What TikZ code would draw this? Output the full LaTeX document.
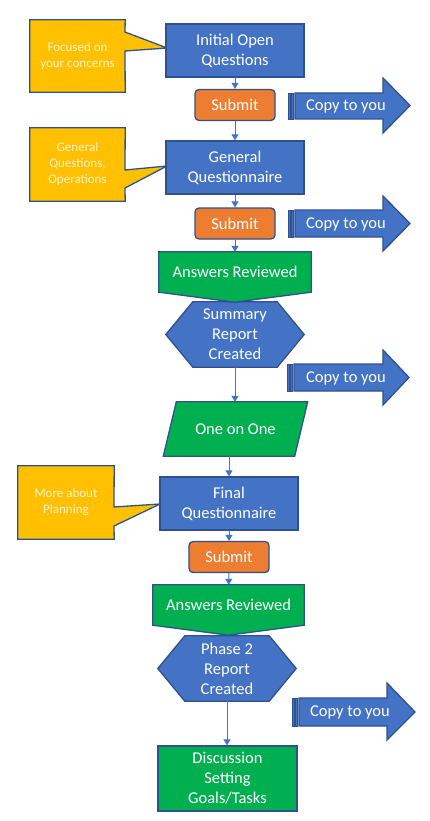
\documentclass[tikz,border=0pt]{standalone}
\usepackage{fontspec}
\setmainfont{Carlito}
\usetikzlibrary{arrows.meta,backgrounds}
\definecolor{bfill}{HTML}{4472C4}
\definecolor{bline}{HTML}{2F528F}
\definecolor{ofill}{HTML}{ED7D31}
\definecolor{gfill}{HTML}{00B050}
\definecolor{yfill}{HTML}{FFC000}
\definecolor{ctext}{HTML}{FFF2CC}
\tikzset{
  maintext/.style={text=white, font=\fontsize{16.5}{20}\selectfont, align=center, inner sep=0pt},
  flowbox/.style={maintext, draw=bline, line width=1.3pt},
  bluebox/.style={flowbox, fill=bfill, minimum width=138pt, minimum height=53pt},
  submitbox/.style={flowbox, fill=ofill, rounded corners=4pt, minimum width=80pt, minimum height=31pt},
  ghost/.style={maintext},
  calltext/.style={text=ctext, font=\fontsize{13}{16}\selectfont, align=center, inner sep=0pt, minimum height=73pt},
  callshape/.style={fill=yfill, draw=bline, line width=1.3pt, line join=miter},
  shapeline/.style={draw=bline, line width=1.3pt},
  stripe/.style={fill=bfill, draw=bline, line width=0.8pt},
  conn/.style={draw=bfill, line width=1pt, -{Triangle[width=7pt,length=6pt]}}
}
\begin{document}
\begin{tikzpicture}[x=1pt,y=-1pt]
\useasboundingbox (0,0) rectangle (429,821);
% callouts
\node[calltext, minimum width=95pt, minimum height=72pt] (c1) at (77.5,56) {Focused on\\your concerns};
\node[calltext, minimum width=95pt] (c2) at (77.5,164.5) {General\\Questions,\\Operations};
\node[calltext, minimum width=96pt] (c3) at (66,502.5) {More about\\Planning};
% flow
\node[bluebox] (init) at (235,50.5) {Initial Open\\Questions};
\node[submitbox] (s1) at (235,105) {Submit};
\node[ghost] (cp1) at (346,106) {Copy to you};
\node[bluebox] (gq) at (235,167.5) {General\\Questionnaire};
\node[submitbox] (s2) at (235,223.5) {Submit};
\node[ghost] (cp2) at (346,224) {Copy to you};
\node[ghost, minimum width=152pt, minimum height=40pt] (ans1) at (235,272) {Answers Reviewed};
\node[ghost, minimum width=138pt, minimum height=65pt] (hex1) at (235,334.5) {Summary\\Report\\Created};
\node[ghost] (cp3) at (346,378) {Copy to you};
\node[ghost, minimum width=131pt, minimum height=54pt] (one) at (235.5,429) {One on One};
\node[bluebox] (fq) at (229,503.5) {Final\\Questionnaire};
\node[submitbox] (s3) at (229,557) {Submit};
\node[ghost, minimum width=151pt, minimum height=40pt] (ans2) at (228.5,605) {Answers Reviewed};
\node[ghost, minimum width=138pt, minimum height=65pt] (hex2) at (227,668.5) {Phase 2\\Report\\Created};
\node[ghost] (cp4) at (350,712) {Copy to you};
\node[flowbox, fill=gfill, minimum width=139pt, minimum height=65pt] (disc) at (227.5,778.5) {Discussion\\Setting\\Goals/Tasks};
% connectors
\draw[conn] (init) -- (s1);
\draw[conn] (s1) -- (gq);
\draw[conn] (gq) -- (s2);
\draw[conn] (s2) -- (ans1);
\draw[conn] (hex1.south) -- (hex1.south |- one.north);
\draw[conn] (one.south -| fq.north) -- (fq.north);
\draw[conn] (fq) -- (s3);
\draw[conn] (s3) -- (ans2);
\draw[conn] (hex2.south) -- (hex2.south |- disc.north);
\begin{pgfonlayer}{background}
\fill[white] (0,0) rectangle (429,821);
% callout shapes
\filldraw[callshape] (c1.north west) -- (c1.north east) -- (125,32) -- (167,48) -- (125,51) -- (c1.south east) -- (c1.south west) -- cycle;
\filldraw[callshape] (c2.north west) -- (c2.north east) -- (125,170) -- (167,166) -- (125,188) -- (c2.south east) -- (c2.south west) -- cycle;
\filldraw[callshape] (c3.north west) -- (c3.north east) -- (114,507) -- (160,504) -- (114,526) -- (c3.south east) -- (c3.south west) -- cycle;
% hexagons
\filldraw[shapeline, fill=bfill] ([xshift=27pt]hex1.north west) -- ([xshift=-27pt]hex1.north east) -- (hex1.east) -- ([xshift=-27pt]hex1.south east) -- ([xshift=27pt]hex1.south west) -- (hex1.west) -- cycle;
\filldraw[shapeline, fill=bfill] ([xshift=27pt]hex2.north west) -- ([xshift=-27pt]hex2.north east) -- (hex2.east) -- ([xshift=-27pt]hex2.south east) -- ([xshift=27pt]hex2.south west) -- (hex2.west) -- cycle;
% off-page connectors
\filldraw[shapeline, fill=gfill] (ans1.north west) -- (ans1.north east) -- (ans1.south east) -- ([yshift=-10pt]ans1.south) -- (ans1.south west) -- cycle;
\filldraw[shapeline, fill=gfill] (ans2.north west) -- (ans2.north east) -- (ans2.south east) -- ([yshift=-10pt]ans2.south) -- (ans2.south west) -- cycle;
% parallelogram
\filldraw[shapeline, fill=gfill] ([xshift=6.5pt]one.north west) -- ([xshift=6.5pt]one.north east) -- ([xshift=-6.5pt]one.south east) -- ([xshift=-6.5pt]one.south west) -- cycle;
% striped arrows
\filldraw[stripe] (288,93) rectangle (290.5,119);
\filldraw[stripe] (291.5,93) rectangle (293.5,119);
\filldraw[shapeline, fill=bfill] (295,93) -- (383,93) -- (383,78) -- (410,105.5) -- (383,133) -- (383,119) -- (295,119) -- cycle;
\filldraw[stripe] (288,210) rectangle (290.5,237);
\filldraw[stripe] (291.5,210) rectangle (293.5,237);
\filldraw[shapeline, fill=bfill] (295,210) -- (383,210) -- (383,196) -- (410,223.5) -- (383,251) -- (383,237) -- (295,237) -- cycle;
\filldraw[stripe] (287,364) rectangle (289.5,391);
\filldraw[stripe] (290.5,364) rectangle (292.5,391);
\filldraw[shapeline, fill=bfill] (294,364) -- (383,364) -- (383,350) -- (409,377.5) -- (383,405) -- (383,391) -- (294,391) -- cycle;
\filldraw[stripe] (292,698) rectangle (294.5,726);
\filldraw[stripe] (295.5,698) rectangle (297.5,726);
\filldraw[shapeline, fill=bfill] (299,698) -- (387,698) -- (387,683) -- (415,712) -- (387,740) -- (387,726) -- (299,726) -- cycle;
\end{pgfonlayer}
\end{tikzpicture}
\end{document}
